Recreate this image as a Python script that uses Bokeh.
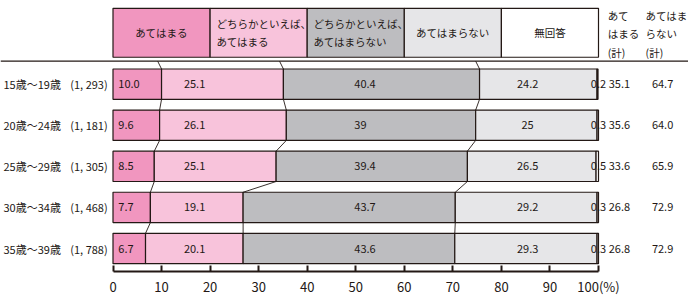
from bokeh.plotting import figure
from bokeh.models import Range1d, FixedTicker, Span
from bokeh.core.properties import value
from bokeh.embed import file_html
from bokeh.resources import INLINE

# ---------------- data ----------------
ages = ["15歳〜19歳", "20歳〜24歳", "25歳〜29歳", "30歳〜34歳", "35歳〜39歳"]
counts = ["(1, 293)", "(1, 181)", "(1, 305)", "(1, 468)", "(1, 788)"]
series_names = ["あてはまる", "どちらかといえば、\nあてはまる", "どちらかといえば、\nあてはまらない",
                "あてはまらない", "無回答"]
atehamaru = [10.0, 9.6, 8.5, 7.7, 6.7]
dochira_atehamaru = [25.1, 26.1, 25.1, 19.1, 20.1]
dochira_atehamaranai = [40.4, 39, 39.4, 43.7, 43.6]
atehamaranai = [24.2, 25, 26.5, 29.2, 29.3]
mukaitou = [0.2, 0.3, 0.5, 0.3, 0.3]
total_atehamaru = [35.1, 35.6, 33.6, 26.8, 26.8]
total_atehamaranai = [64.7, 64.0, 65.9, 72.9, 72.9]
total_headers = [["あて", "はまる", "(計)"], ["あてはま", "らない", "(計)"]]
x_ticks = [0, 10, 20, 30, 40, 50, 60, 70, 80, 90, 100]

# ---------------- style / layout ----------------
colors = ["#F196BF", "#F8C3DB", "#BDBDC0", "#E6E6E8", "#FFFFFF"]
INK = "#231815"
FONT = value("Noto Sans CJK JP")
W, H = 688, 298
FH = 277                      # frame height (px), axis below
PX0, PXU = 112.5, 4.855       # pixel of x=0, px per percent
XL = -PX0 / PXU
XR = (W - PX0) / PXU
ROW0, PITCH, BAR_H = 85.5, 42, 31
HEAD_TOP, HEAD_BOT, RULE_Y = 8, 58, 62

series = [atehamaru, dochira_atehamaru, dochira_atehamaranai, atehamaranai, mukaitou]
n = len(ages)
ys = [ROW0 + i * PITCH for i in range(n)]

p = figure(width=W, height=H, x_range=Range1d(XL, XR), y_range=Range1d(FH, 0),
           output_backend="svg", toolbar_location=None, min_border=0,
           min_border_bottom=H - FH, y_axis_location=None)
p.outline_line_color = None
p.xgrid.visible = False
p.ygrid.visible = False
p.background_fill_color = "white"
p.border_fill_color = "white"

# stacked bars
cum = [0.0] * n
bounds = []
for k, vals in enumerate(series):
    left = cum[:]
    right = [a + b for a, b in zip(cum, vals)]
    p.hbar(y=ys, left=left, right=right, height=BAR_H, fill_color=colors[k],
           line_color=INK, line_width=1.2)
    cum = right
    bounds.append(right)

# connector lines between rows (after segments 1..3)
for k in range(3):
    b = bounds[k]
    x0 = [b[i] for i in range(n - 1)]
    x1 = [b[i + 1] for i in range(n - 1)]
    y0 = [ys[i] + BAR_H / 2 for i in range(n - 1)]
    y1 = [ys[i + 1] - BAR_H / 2 for i in range(n - 1)]
    p.segment(x0=x0, y0=y0, x1=x1, y1=y1, line_color=INK, line_width=0.9)
    p.segment(x0=[b[0] - 0.8], y0=[RULE_Y], x1=[b[0]], y1=[ys[0] - BAR_H / 2],
              line_color=INK, line_width=0.9)

# header legend boxes
nb = len(series_names)
bw = 100 / nb
p.quad(left=[i * bw for i in range(nb)], right=[(i + 1) * bw for i in range(nb)],
       top=[HEAD_TOP] * nb, bottom=[HEAD_BOT] * nb, fill_color=colors,
       line_color=INK, line_width=1.2)
hc = (HEAD_TOP + HEAD_BOT) / 2
for i, name in enumerate(series_names):
    lines = name.split("\n")
    if len(lines) == 1:
        p.text(x=[(i + 0.5) * bw], y=[hc], text=[name], text_font=FONT,
               text_font_size=value("10.5px"), text_align="center",
               text_baseline="middle", text_color=INK)
    else:
        for j, ln in enumerate(lines):
            p.text(x=[i * bw + 1.3], y=[hc - 9 + 18 * j], text=[ln], text_font=FONT,
                   text_font_size=value("10.5px"), text_align="left",
                   text_baseline="middle", text_color=INK)

# rule under header
p.add_layout(Span(location=RULE_Y, dimension="width", line_color=INK, line_width=1.3))

# totals header
for xh, hl in zip([101.9, 109.7], total_headers):
    for j, ln in enumerate(hl):
        p.text(x=[xh], y=[15 + 19 * j], text=[ln], text_font=FONT,
               text_font_size=value("10.5px"), text_align="left",
               text_baseline="middle", text_color=INK)

# row labels
p.text(x=[XL + 3 / PXU] * n, y=ys, text=ages, text_font=FONT,
       text_font_size=value("11px"), text_align="left", text_baseline="middle",
       text_color=INK)
p.text(x=[-1.1] * n, y=ys, text=counts, text_font=FONT,
       text_font_size=value("11px"), text_align="right", text_baseline="middle",
       text_color=INK)

# value labels
def lab(vals, fmt):
    return [fmt.format(v) for v in vals]

label_specs = [
    (lab(atehamaru, "{:.1f}"), 1.1, "left"),
    (lab(dochira_atehamaru, "{:.1f}"), 16.8, "center"),
    (lab(dochira_atehamaranai, "{:g}"), 49.7, "left"),
    (lab(atehamaranai, "{:g}"), 85.4, "center"),
    (lab(mukaitou, "{:.1f}"), 100.0, "center"),
    (lab(total_atehamaru, "{:.1f}"), 104.3, "center"),
    (lab(total_atehamaranai, "{:.1f}"), 113.2, "center"),
]
for texts, xpos, al in label_specs:
    p.text(x=[xpos] * n, y=ys, text=texts, text_font=FONT,
           text_font_size=value("11px"), text_align=al, text_baseline="middle",
           text_color=INK)

# x axis
ax = p.xaxis[0]
ax.bounds = (0, 100)
ax.ticker = FixedTicker(ticks=x_ticks)
ax.major_label_overrides = {100: "100(%)"}
ax.axis_line_color = INK
ax.axis_line_width = 2
ax.major_tick_line_color = INK
ax.major_tick_line_width = 2
ax.major_tick_in = 6
ax.major_tick_out = 0
ax.minor_tick_line_color = None
ax.major_label_standoff = 5
ax.major_label_text_font = "Noto Sans CJK JP"
ax.major_label_text_font_size = "13px"
ax.major_label_text_color = INK

open("out.html", "w").write(file_html(p, INLINE))
